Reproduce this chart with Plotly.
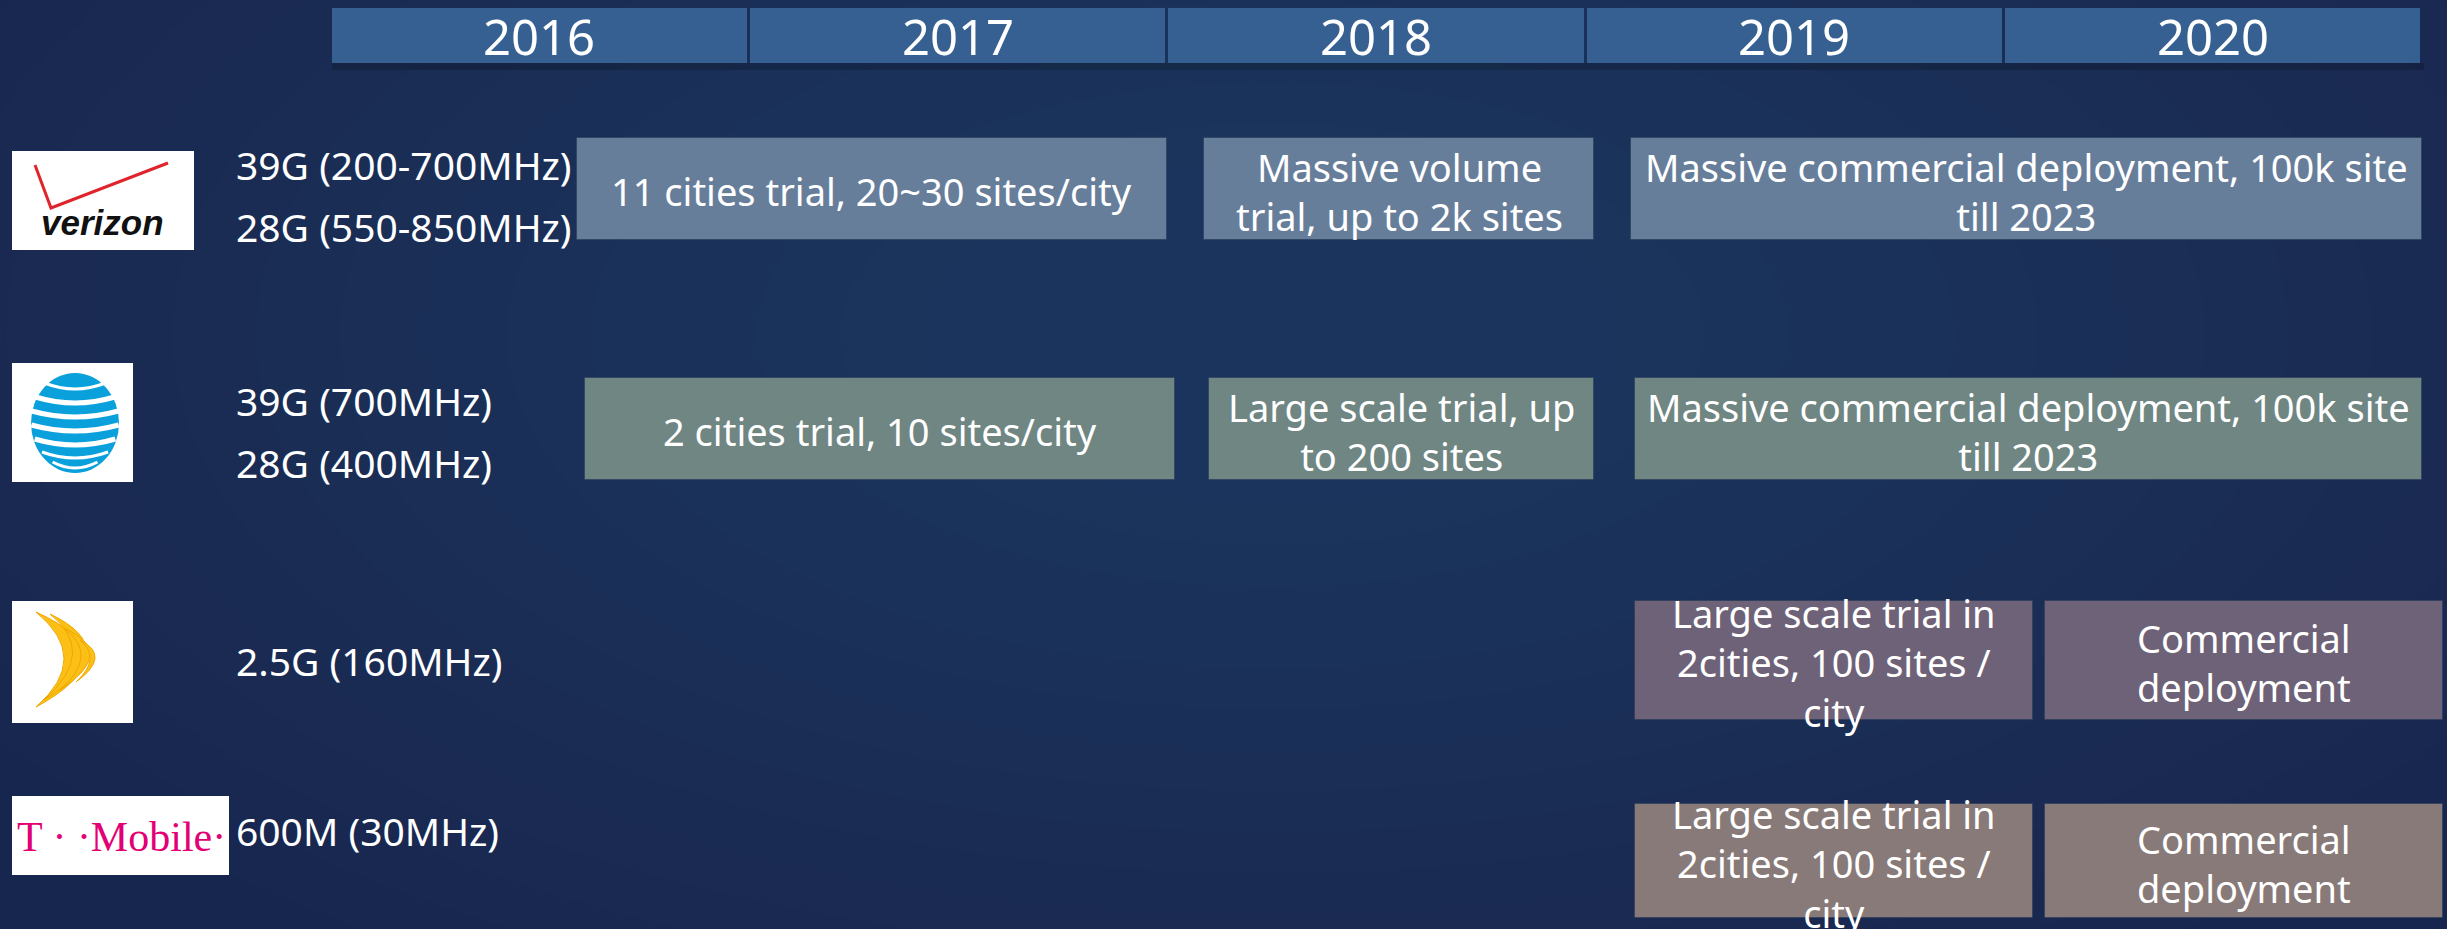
import plotly.graph_objects as go

# ---------------- data ----------------
years = [2016, 2017, 2018, 2019, 2020]
carriers = ["Verizon", "AT&T", "Sprint", "T-Mobile"]
spectrum_labels = [
    ["39G (200-700MHz)", "28G (550-850MHz)"],
    ["39G (700MHz)", "28G (400MHz)"],
    ["2.5G (160MHz)"],
    ["600M (30MHz)"],
]
phase_carrier = ["Verizon", "Verizon", "Verizon",
                 "AT&T", "AT&T", "AT&T",
                 "Sprint", "Sprint",
                 "T-Mobile", "T-Mobile"]
phase_start = [2016.59, 2018.09, 2019.11,
               2016.61, 2018.10, 2019.12,
               2019.12, 2020.10,
               2019.12, 2020.10]
phase_end = [2018.00, 2019.02, 2021.00,
             2018.02, 2019.02, 2021.00,
             2020.07, 2021.05,
             2020.07, 2021.05]
phase_text = [
    "11 cities trial, 20~30 sites/city",
    "Massive volume<br>trial, up to 2k sites",
    "Massive commercial deployment, 100k site<br>till 2023",
    "2 cities trial, 10 sites/city",
    "Large scale trial, up<br>to 200 sites",
    "Massive commercial deployment, 100k site<br>till 2023",
    "Large scale trial in<br>2cities, 100 sites /<br>city",
    "Commercial<br>deployment",
    "Large scale trial in<br>2cities, 100 sites /<br>city",
    "Commercial<br>deployment",
]

# ---------------- layout / style ----------------
W, H = 2447, 929
FONT = "Noto Sans"
row_center = {"Verizon": 189, "AT&T": 429, "Sprint": 660, "T-Mobile": 861}
row_height = {"Verizon": 102, "AT&T": 102, "Sprint": 119, "T-Mobile": 114}
row_color = {"Verizon": "#677e9b", "AT&T": "#6f8683", "Sprint": "#6e6278", "T-Mobile": "#887a78"}
label_center = {"Verizon": 195, "AT&T": 431, "Sprint": 660, "T-Mobile": 830}
label_gap = 62
header_center, header_height = 35.5, 55
header_color = "#366091"
bg = "#16264e"

# x axis in years, 2016 column starting at 330 px, 418.4 px per year
px_per_year = 418.4
x0 = 2016 - 330 / px_per_year
x1 = 2016 + (W - 330) / px_per_year


def px(x):
    return x / W


fig = go.Figure()

# header bars
fig.add_trace(go.Bar(
    orientation="h",
    y=[header_center] * len(years),
    base=[y + 0.004 for y in years],
    x=[0.992] * len(years),
    width=[header_height] * len(years),
    marker=dict(color=header_color, line=dict(width=0)),
    hoverinfo="skip", showlegend=False,
))

# phase bars
for c in carriers:
    idx = [i for i, pc in enumerate(phase_carrier) if pc == c]
    fig.add_trace(go.Bar(
        orientation="h",
        y=[row_center[c]] * len(idx),
        base=[phase_start[i] for i in idx],
        x=[phase_end[i] - phase_start[i] for i in idx],
        width=[row_height[c]] * len(idx),
        marker=dict(color=row_color[c], line=dict(width=1, color="rgba(40,60,90,0.6)")),
        hoverinfo="skip", showlegend=False,
    ))

annotations = []
# year labels
for y in years:
    annotations.append(dict(x=y + 0.5, y=header_center, xref="x", yref="y", text=str(y),
                            xanchor="center", showarrow=False,
                            font=dict(family=FONT, size=49, color="white")))
# phase texts
for i, t in enumerate(phase_text):
    c = phase_carrier[i]
    annotations.append(dict(x=(phase_start[i] + phase_end[i]) / 2, y=row_center[c] + 2,
                            xref="x", yref="y", text=t, showarrow=False, xanchor="center",
                            font=dict(family=FONT, size=38, color="white")))
# spectrum labels
for c, labels in zip(carriers, spectrum_labels):
    n = len(labels)
    for k, lab in enumerate(labels):
        yy = label_center[c] + (k - (n - 1) / 2) * label_gap
        annotations.append(dict(x=px(234), y=yy, xref="paper", yref="y", text=lab,
                                xanchor="left", showarrow=False,
                                font=dict(family=FONT, size=39, color="white")))

shapes = []
# background soft gradient
for k in range(16):
    f = 1 - k * 0.055
    shapes.append(dict(type="circle", xref="paper", yref="paper", layer="below",
                       x0=0.52 - 0.62 * f, x1=0.52 + 0.62 * f, y0=0.64 - 0.8 * f, y1=0.64 + 0.8 * f,
                       fillcolor="#2d5588", opacity=0.04, line=dict(width=0)))
# header shadow
shapes.append(dict(type="rect", xref="paper", yref="y", layer="below",
                   x0=px(332), x1=px(2424), y0=63, y1=70,
                   fillcolor="black", opacity=0.18, line=dict(width=0)))

# ---- logos ----
# Verizon
shapes.append(dict(type="rect", xref="paper", yref="y", x0=px(12), x1=px(194), y0=151, y1=250,
                   fillcolor="white", line=dict(width=0)))
shapes.append(dict(type="path", xref="paper", yref="y",
                   path=f"M {px(35)},{165} L {px(51)},{208} L {px(168)},{163}",
                   line=dict(color="#e0242b", width=3)))
annotations.append(dict(x=px(102), y=222, xref="paper", yref="y", text="<b><i>verizon</i></b>",
                        xanchor="center", showarrow=False,
                        font=dict(family="Liberation Sans", size=35, color="#111111")))
# AT&T
shapes.append(dict(type="rect", xref="paper", yref="y", x0=px(12), x1=px(133), y0=363, y1=482,
                   fillcolor="white", line=dict(width=0)))
cx, cy, rx, ry = 75, 423, 44, 50
shapes.append(dict(type="circle", xref="paper", yref="y", x0=px(cx - rx), x1=px(cx + rx),
                   y0=cy - ry, y1=cy + ry, fillcolor="#0aa0dc", line=dict(width=0)))
for dy in [-36, -22, -8, 6, 20, 33, 43]:
    hw = rx * (max(0.0, 1 - (dy / ry) ** 2)) ** 0.5
    shapes.append(dict(type="path", xref="paper", yref="y",
                       path=f"M {px(cx - hw)},{cy + dy - 4} Q {px(cx)},{cy + dy + 8} {px(cx + hw)},{cy + dy - 4}",
                       line=dict(color="white", width=5 if abs(dy) < 30 else 3)))
# Sprint
shapes.append(dict(type="rect", xref="paper", yref="y", x0=px(12), x1=px(133), y0=601, y1=723,
                   fillcolor="white", line=dict(width=0)))
for (ax, ay, bx, by, qx, qy, ix, iy) in [(36, 612, 36, 707, 132, 655, 92, 658),
                                         (50, 614, 44, 700, 126, 650, 98, 652),
                                         (64, 628, 60, 690, 118, 652, 100, 655),
                                         (80, 640, 76, 682, 112, 656, 102, 658)]:
    shapes.append(dict(type="path", xref="paper", yref="y",
                       path=f"M {px(ax)},{ay} Q {px(qx)},{qy} {px(bx)},{by} Q {px(ix)},{iy} {px(ax)},{ay} Z",
                       fillcolor="#fbbf16", line=dict(color="#f0a800", width=1)))
# T-Mobile
shapes.append(dict(type="rect", xref="paper", yref="y", x0=px(12), x1=px(229), y0=796, y1=875,
                   fillcolor="white", line=dict(width=0)))
annotations.append(dict(x=px(121), y=837, xref="paper", yref="y", text="T · ·Mobile·",
                        xanchor="center", showarrow=False,
                        font=dict(family="Liberation Serif", size=42, color="#e20074")))

fig.update_layout(
    width=W, height=H,
    margin=dict(l=0, r=0, t=0, b=0),
    paper_bgcolor=bg, plot_bgcolor="rgba(0,0,0,0)",
    barmode="overlay", bargap=0,
    xaxis=dict(range=[x0, x1], visible=False, fixedrange=True),
    yaxis=dict(range=[H, 0], visible=False, fixedrange=True),
    shapes=shapes, annotations=annotations,
    showlegend=False,
)

fig.write_html("out.html", config={"displayModeBar": False},
               post_script="document.body.style.margin='0';document.body.style.overflow='hidden';")
